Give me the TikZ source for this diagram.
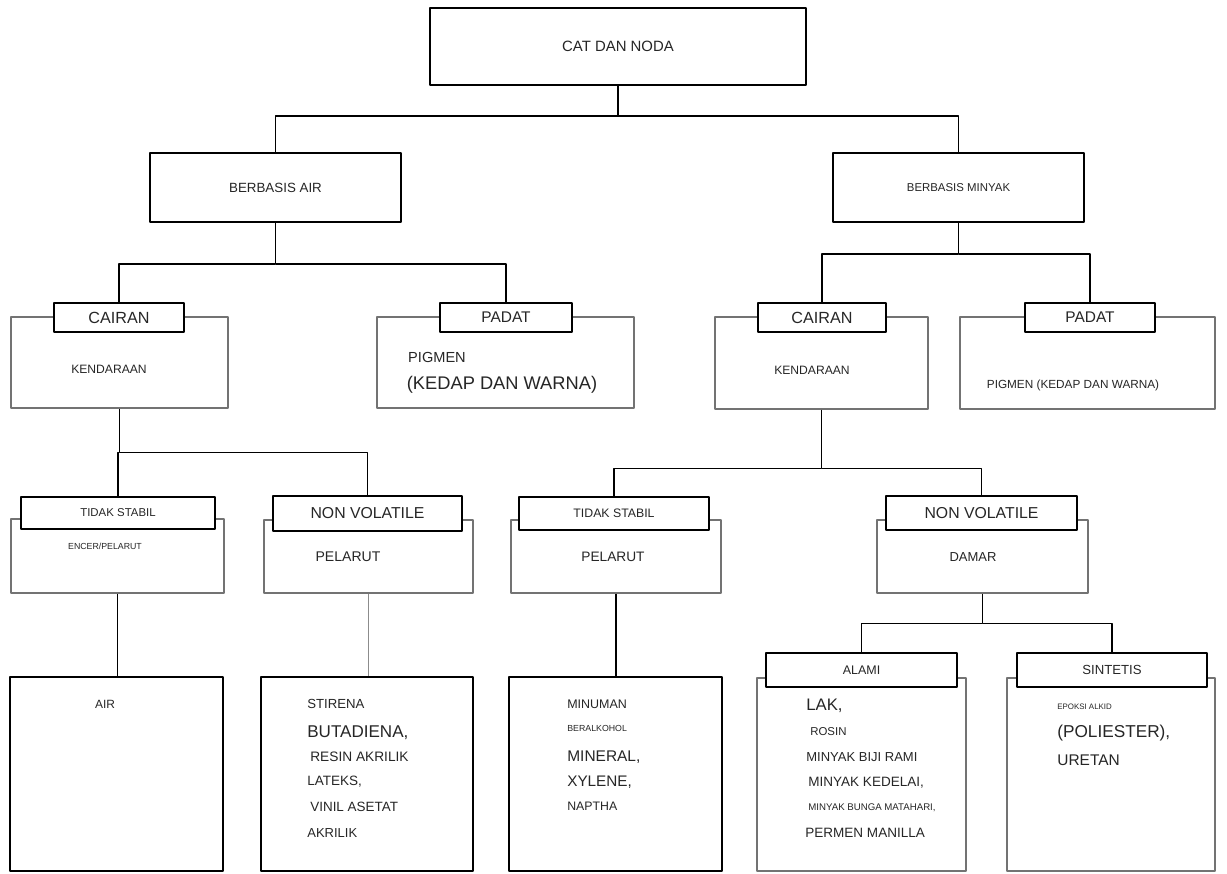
\documentclass[tikz,border=0pt]{standalone}
\usepackage{fontspec}
\setmainfont{Liberation Sans}
\newcommand{\uk}[1]{\fontsize{#1}{#1}\selectfont}
\begin{document}
\begin{tikzpicture}[x=0.02cm,y=-0.02cm,line join=round,font=\uk{7},text=black!85,
	kotak/.style 2 args={draw,line width=1.2pt,fill=white,inner sep=0pt,minimum width=#1*0.02cm,minimum height=#2*0.02cm},
	isi/.style 2 args={draw=black!55,line width=0.8pt,inner sep=0pt,minimum width=#1*0.02cm,minimum height=#2*0.02cm},
	garis/.style={line width=0.7pt}]
	\fill[white] (0,0) rectangle (1227,873);
	\useasboundingbox (0,0) rectangle (1227,873);
	% tingkat atas
	\node[kotak={376}{77}] (cat) at (618,46.5) {\uk{8.5}CAT DAN NODA};
	\node[kotak={251}{69}] (bair) at (275.5,187.5) {\uk{7.6}BERBASIS AIR};
	\node[kotak={251}{69}] (bminyak) at (958.5,187.5) {\uk{6.5}BERBASIS MINYAK};
	% kotak isi + tab judul
	\foreach \n/\x/\y/\w/\h/\tx/\ty/\tw/\th/\s/\t in {
		cair1/119.5/362.5/217/91/119/317.5/130/29/9.2/CAIRAN,
		padat1/505.5/362.5/257/91/506/317.5/132/29/8.8/PADAT,
		cair2/821.5/363/213/92/822/317.5/128/29/9.2/CAIRAN,
		padat2/1087.5/363/255/92/1090/317.5/130/29/8.8/PADAT,
		tidak1/117.5/556/213/74/118/513/194/32/6.5/TIDAK STABIL,
		nonvol1/368.5/556.5/209/73/367.5/513.5/189/35/9/NON VOLATILE,
		tidak2/616/556.5/210/73/614/513.5/190/33/7/TIDAK STABIL,
		nonvol2/982.5/556.5/211/73/981.5/513/191/34/9/NON VOLATILE,
		alami/861.5/774.5/209/193/861.5/670/191/34/7.1/ALAMI,
		sintetis/1111/774.5/208/193/1112/670/190/34/7.5/SINTETIS}{
		\node[isi={\w}{\h}] (\n) at (\x,\y) {};
		\node[kotak={\tw}{\th}] (\n t) at (\tx,\ty) {\uk{\s}\t};
	}
	\node[kotak={213}{194}] (air) at (116.5,774) {};
	\node[kotak={212}{194}] (stirena) at (367,774) {};
	\node[kotak={213}{194}] (minuman) at (615.5,774) {};
	% teks tengah
	\foreach \n/\x/\y/\s/\t in {ken1/109/369/6.9/KENDARAAN, pig1a/437/357/8.3/PIGMEN,
		pig1b/502/385/10.4/(KEDAP DAN WARNA), ken2/812/370/6.9/KENDARAAN,
		pig2/1073/385/6.7/PIGMEN (KEDAP DAN WARNA), enc/105/546/5/{ENCER/PELARUT},
		pel1/348/557/8/PELARUT, pel2/613/557/7.8/PELARUT, dam/973/557/7.4/DAMAR,
		tair/105/704/6.8/AIR}
		\node[font=\uk{\s}] (\n) at (\x,\y) {\t};
	% daftar rata kiri
	\foreach \n/\x/\y/\s/\t in {st1/307/704/7.5/STIRENA, st2/307/733/9.7/{BUTADIENA,},
		st3/310/757/7.8/RESIN AKRILIK, st4/307/782/7.7/{LATEKS,},
		st5/310/807/7.65/VINIL ASETAT, st6/307/833/7.4/AKRILIK,
		mn1/567/704/7.1/MINUMAN, mn2/567/728/5/BERALKOHOL, mn3/567/757/8.8/{MINERAL,},
		mn4/567/782/8.7/{XYLENE,}, mn5/567/806/7/NAPTHA,
		al1/806/706/9.5/{LAK,}, al2/810/732/6.5/ROSIN, al3/806/757/7.4/MINYAK BIJI RAMI,
		al4/808/783/7.7/{MINYAK KEDELAI,}, al5/808/808/5.5/{MINYAK BUNGA MATAHARI,},
		al6/805/833/7.7/PERMEN MANILLA,
		si1/1057/707/4.5/EPOKSI ALKID, si2/1057/733/9.8/{(POLIESTER),}, si3/1057/760/8.8/URETAN}
		\node[font=\uk{\s},anchor=west,inner sep=0pt] (\n) at (\x,\y) {\t};
	% garis penghubung
	\draw[garis] (cat.south) -- ++(0,30) coordinate (c0) -| (bair.north) (c0) -| (bminyak.north);
	\draw[garis] (bair.south) -- ++(0,41) coordinate (c1) -| (cair1t.north) (c1) -| (padat1t.north);
	\draw[garis] (bminyak.south) -- ++(0,31) coordinate (c2) -| (cair2t.north) (c2) -| (padat2t.north);
	\draw[garis] (cair1.south) -- ++(0,44) coordinate (c3) -| (tidak1t.north) (c3) -| (nonvol1t.north);
	\draw[garis] (cair2.south) -- ++(0,59) coordinate (c4) -| (tidak2t.north) (c4) -| (nonvol2t.north);
	\draw[garis] (nonvol2.south) -- ++(0,30) coordinate (c5) -| (alamit.north) (c5) -| (sintetist.north);
	\draw[garis] (tidak1.south) -- (tidak1.south |- air.north);
	\draw[garis,black!45] (nonvol1.south) -- (nonvol1.south |- stirena.north);
	\draw[garis] (tidak2.south) -- (tidak2.south |- minuman.north);
\end{tikzpicture}
\end{document}
